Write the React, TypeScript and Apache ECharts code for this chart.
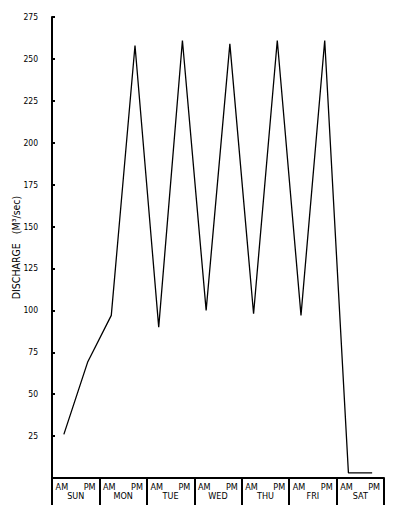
import React, { useEffect, useRef } from "react";
import * as echarts from "echarts";

const halfDays = ["AM", "PM", "AM", "PM", "AM", "PM", "AM", "PM", "AM", "PM", "AM", "PM", "AM", "PM"];
const days = ["SUN", "MON", "TUE", "WED", "THU", "FRI", "SAT"];
const discharge = [26, 69, 97, 258, 90, 261, 100, 259, 98, 261, 97, 261, 3, 3];
const yMin = 0;
const yMax = 275;
const yInterval = 25;

export default function App() {
  const ref = useRef<HTMLDivElement>(null);
  useEffect(() => {
    if (!ref.current) return;
    const chart = echarts.init(ref.current, undefined, { renderer: "svg" });
    const font = "'DejaVu Sans Condensed', 'DejaVu Sans', sans-serif";
    chart.setOption({
      animation: false,
      backgroundColor: "#fff",
      grid: { left: 52, top: 17, right: 16, bottom: 34, containLabel: false, outerBoundsMode: "none" },
      xAxis: [
        {
          type: "category",
          data: halfDays,
          position: "bottom",
          boundaryGap: true,
          axisLine: { show: true, lineStyle: { color: "#000", width: 2 } },
          axisTick: { show: false },
          axisLabel: {
            color: "#000",
            fontSize: 9,
            fontFamily: font,
            margin: 4,
            interval: 0,
            formatter: (v: string) => (v === "AM" ? "{am|AM}" : "{pm|PM}"),
            rich: {
              am: { color: "#000", fontSize: 9, fontFamily: font, padding: [0, 4, 0, 0] },
              pm: { color: "#000", fontSize: 9, fontFamily: font, padding: [0, 0, 0, 4] },
            },
          },
          splitLine: { show: false },
        },
        {
          type: "category",
          data: days,
          position: "bottom",
          boundaryGap: true,
          axisLine: { show: false },
          axisTick: { show: true, length: 27, lineStyle: { color: "#000", width: 2 } },
          axisLabel: { color: "#000", fontSize: 9, fontFamily: font, margin: 13, interval: 0 },
          splitLine: { show: false },
        },
      ],
      yAxis: {
        type: "value",
        min: yMin,
        max: yMax,
        interval: yInterval,
        name: "DISCHARGE   (M³/sec)",
        nameLocation: "middle",
        nameGap: 31,
        nameMoveOverlap: false,
        nameTextStyle: { color: "#000", fontSize: 10.5, fontFamily: font },
        axisLine: { show: true, lineStyle: { color: "#000", width: 2 } },
        axisTick: { show: true, inside: true, length: 3, lineStyle: { color: "#000", width: 2 } },
        axisLabel: {
          color: "#000",
          fontSize: 8.5,
          fontFamily: font,
          margin: 14,
          formatter: (v: number) => (v === 0 ? "" : String(v)),
        },
        splitLine: { show: false },
      },
      series: [
        {
          type: "line",
          xAxisIndex: 0,
          data: discharge,
          symbol: "none",
          lineStyle: { color: "#000", width: 1.3 },
        },
      ],
    });
    return () => chart.dispose();
  }, []);
  return <div ref={ref} style={{ position: "absolute", left: 0, top: 0, width: 400, height: 512 }} />;
}
